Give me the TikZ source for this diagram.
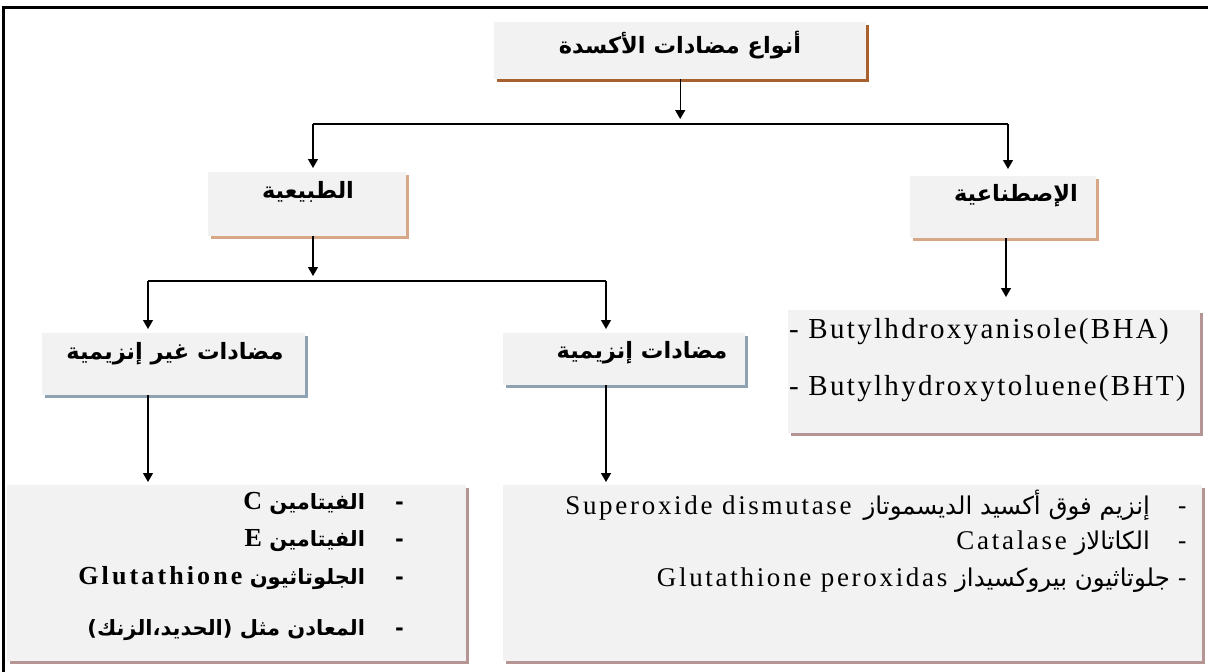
\documentclass[tikz,border=0pt]{standalone}
\usepackage{fontspec}
\setmainfont{Liberation Serif}
\newfontfamily\arfont[Script=Arabic]{DejaVu Sans}
\newfontfamily\latsp{Liberation Serif}
\TeXXeTstate=1
\usetikzlibrary{arrows.meta,shadows}
\definecolor{boxgray}{HTML}{F2F2F2}
\definecolor{shbrown}{HTML}{A8602E}
\definecolor{shtan}{HTML}{D6A888}
\definecolor{shblue}{HTML}{8EA2B2}
\definecolor{shrose}{HTML}{B59494}
\newcommand\ArLbl{\arfont\bfseries\fontsize{22.5}{26}\selectfont}
\newcommand\ArB{\arfont\bfseries\fontsize{21}{25}\selectfont}
\newcommand\ArR{\arfont\fontsize{24.5}{28}\selectfont}
\newcommand\LatBig{\latsp\addfontfeature{LetterSpace=8}\fontsize{29}{34}\selectfont}
\newcommand\LatBold{\latsp\bfseries\addfontfeature{LetterSpace=12}\fontsize{26}{30}\selectfont}
\newcommand\LatReg{\latsp\addfontfeature{LetterSpace=10}\fontsize{27}{32}\selectfont}
\begin{document}
\begin{tikzpicture}[x=1pt,y=-1pt,
  box/.style={fill=boxgray, draw=none, inner sep=0pt, anchor=north west},
  shad/.style={drop shadow={shadow xshift=3pt, shadow yshift=-3pt, fill=#1, opacity=1}},
  arr/.style={line width=1.3pt, -{Triangle[width=10pt,length=9pt]}},
  ln/.style={line width=1.3pt},
  lbl/.style={font=\ArLbl, inner sep=0pt},
  lrow/.style={font=\ArB, inner sep=0pt, anchor=east},
  rrow/.style={font=\ArR, inner sep=0pt, anchor=east},
  brow/.style={font=\LatBig, inner sep=0pt, anchor=west}]
\useasboundingbox (0,0) rectangle (1208,672);
\fill[white] (0,0) rectangle (1208,672);
% frame
\draw[line width=3pt, line join=miter] (3.5,672) -- (3.5,7) -- (1208,7);
% boxes
\node[box, shad=shbrown, minimum width=372pt, minimum height=57pt] (top) at (494,22) {};
\node[box, shad=shtan, minimum width=198pt, minimum height=64pt] (nat) at (208,172) {};
\node[box, shad=shtan, minimum width=186pt, minimum height=62pt] (art) at (910,176) {};
\node[box, shad=shblue, minimum width=263pt, minimum height=62pt] (nonenz) at (42,333) {};
\node[box, shad=shblue, minimum width=242pt, minimum height=52pt] (enz) at (503,333) {};
\node[box, shad=shrose, minimum width=412pt, minimum height=123pt] (syn) at (788,310) {};
\node[box, shad=shrose, minimum width=459pt, minimum height=176pt] (natlist) at (7,485) {};
\node[box, shad=shrose, minimum width=699pt, minimum height=176pt] (enzlist) at (503,485) {};
% labels
\node[lbl] (toplbl) at (680,45) {\beginR أنواع مضادات الأكسدة\endR};
\node[lbl] (natlbl) at (308,192) {\beginR الطبيعية\endR};
\node[lbl] (artlbl) at (1016,196) {\beginR الإصطناعية\endR};
\node[lbl] (nonenzlbl) at (175,354) {\beginR مضادات غير إنزيمية\endR};
\node[lbl] (enzlbl) at (642,353) {\beginR مضادات إنزيمية\endR};
% synthetic list
\node[brow] (bha) at (789,332) {- Butylhdroxyanisole(BHA)};
\node[brow] (bht) at (789,389) {- Butylhydroxytoluene(BHT)};
% non-enzymatic list
\node[lrow] (vc) at (404,503) {\beginR -\hspace{30pt}الفيتامين \beginL{\LatBold C}\endL\endR};
\node[lrow] (ve) at (404,541) {\beginR -\hspace{30pt}الفيتامين \beginL{\LatBold E}\endL\endR};
\node[lrow] (glu) at (404,578) {\beginR -\hspace{30pt}الجلوتاثيون \beginL{\LatBold Glutathione}\endL\endR};
\node[lrow] (min) at (404,630) {\beginR -\hspace{30pt}المعادن مثل (الحديد،الزنك)\endR};
% enzymatic list
\node[rrow] (sod) at (1187,505) {\beginR -\hspace{28pt}إنزيم فوق أكسيد الديسموتاز\hspace{12pt}\beginL{\LatReg Superoxide dismutase}\endL\endR};
\node[rrow] (cat) at (1187,543) {\beginR -\hspace{28pt}الكاتالاز \beginL{\LatReg Catalase}\endL\endR};
\node[rrow] (gpx) at (1187,580) {\beginR -\hspace{8pt}جلوتاثيون بيروكسيداز \beginL{\LatReg Glutathione peroxidas}\endL\endR};
% connectors
\coordinate (j1) at (680,119);
\draw[arr] (top.south) -- (top.south |- j1);
\coordinate (hL) at (313,124);
\coordinate (hR) at (1008,124);
\draw[ln] (hL) -- (hR);
\draw[arr, shorten >=4pt] (hL) -- (hL |- nat.north);
\draw[arr, shorten >=7pt] (hR) -- (hR |- art.north);
\coordinate (j2) at (313,276);
\draw[arr] (j2 |- nat.south) -- (j2);
\coordinate (h2L) at (148,281);
\coordinate (h2R) at (606,281);
\draw[ln] (h2L) -- (h2R);
\draw[arr, shorten >=4pt] (h2L) -- (h2L |- nonenz.north);
\draw[arr, shorten >=4pt] (h2R) -- (h2R |- enz.north);
\coordinate (j3) at (1006,297);
\draw[arr] (j3 |- art.south) -- (j3);
\coordinate (j4) at (148,482);
\draw[arr] (j4 |- nonenz.south) -- (j4);
\coordinate (j5) at (606,482);
\draw[arr] (j5 |- enz.south) -- (j5);
\end{tikzpicture}
\end{document}
